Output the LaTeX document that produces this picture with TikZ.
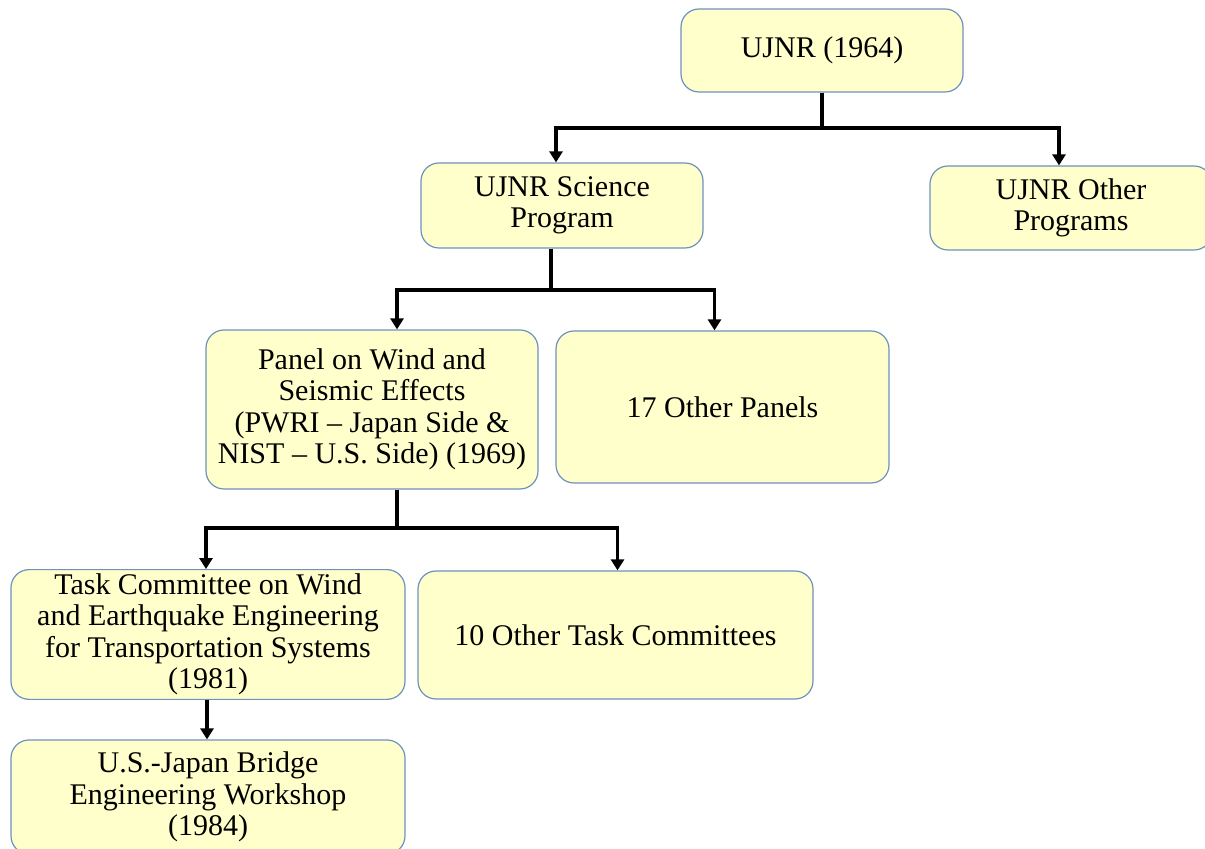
\documentclass[tikz,border=0pt]{standalone}
\usepackage{fontspec}
\setmainfont{Liberation Serif}
\usetikzlibrary{arrows.meta}
\definecolor{boxfill}{RGB}{255,255,204}
\definecolor{boxline}{RGB}{110,145,190}
\tikzset{
  orgbox/.style={ draw=boxline, fill=boxfill, rounded corners=9pt, align=center,
    font=\fontsize{15}{15.75}\selectfont, inner sep=2pt, line width=0.6pt }
}
\tikzset{
  link/.style={ line width=1.7pt, -{Triangle[length=5.5pt, width=6.5pt]} }
}
\tikzset{
  trunk/.style={ line width=1.7pt }
}

\begin{document}
\begin{tikzpicture}[x=0.5pt, y=-0.5pt]
      \clip (0, 0) rectangle (1205, 849);
      \useasboundingbox (0, 0) rectangle (1205, 849);

      \node[orgbox, minimum width=141pt, minimum height=41.5pt] (ujnr) at (822, 50.5) {UJNR (1964)};
      \node[orgbox, minimum width=141pt, minimum height=42.5pt] (sci) at (562, 205.5) {UJNR Science\\Program};
      \node[orgbox, minimum width=141pt, minimum height=42pt] (oth) at (1071, 208) {UJNR Other\\Programs};
      \coordinate (j1) at (822, 128);
      \draw[trunk] (ujnr) -- (j1);
      \draw[link] (j1) -| ([xshift=-3pt]sci.north);
      \draw[link] (j1) -| ([xshift=-6pt]oth.north);

      \node[orgbox, minimum width=166pt, minimum height=79.5pt] (pwse) at (372, 409.5)
        {Panel on Wind and\\Seismic Effects\\(PWRI -- Japan Side \&\\NIST -- U.S. Side) (1969)};
      \node[orgbox, minimum width=166.5pt, minimum height=76pt] (pan) at (722.5, 407) {17 Other Panels};
      \coordinate (j2) at (551, 290);
      \draw[trunk] (sci.south -| j2) -- (j2);
      \draw[link] (j2) -| ([xshift=12.5pt]pwse.north);
      \draw[link] (j2) -| ([xshift=-4pt]pan.north);

      \node[orgbox, minimum width=197pt, minimum height=64.5pt] (tcw) at (208, 634.5)
        {Task Committee on Wind\\and Earthquake Engineering\\for Transportation Systems\\(1981)};
      \node[orgbox, minimum width=197.5pt, minimum height=64pt] (tcs) at (615.5, 635) {10 Other Task Committees};
      \coordinate (j3) at (397, 528);
      \draw[trunk] (pwse.south -| j3) -- (j3);
      \draw[link] (j3) -| ([xshift=-1pt]tcw.north);
      \draw[link] (j3) -| ([xshift=1pt]tcs.north);

      \node[orgbox, minimum width=197pt, minimum height=57pt] (brw) at (208, 797)
        {U.S.-Japan Bridge\\Engineering Workshop\\(1984)};
      \draw[link] ([xshift=-0.5pt]tcw.south) -- ([xshift=-0.5pt]brw.north);

    \end{tikzpicture}
\end{document}
